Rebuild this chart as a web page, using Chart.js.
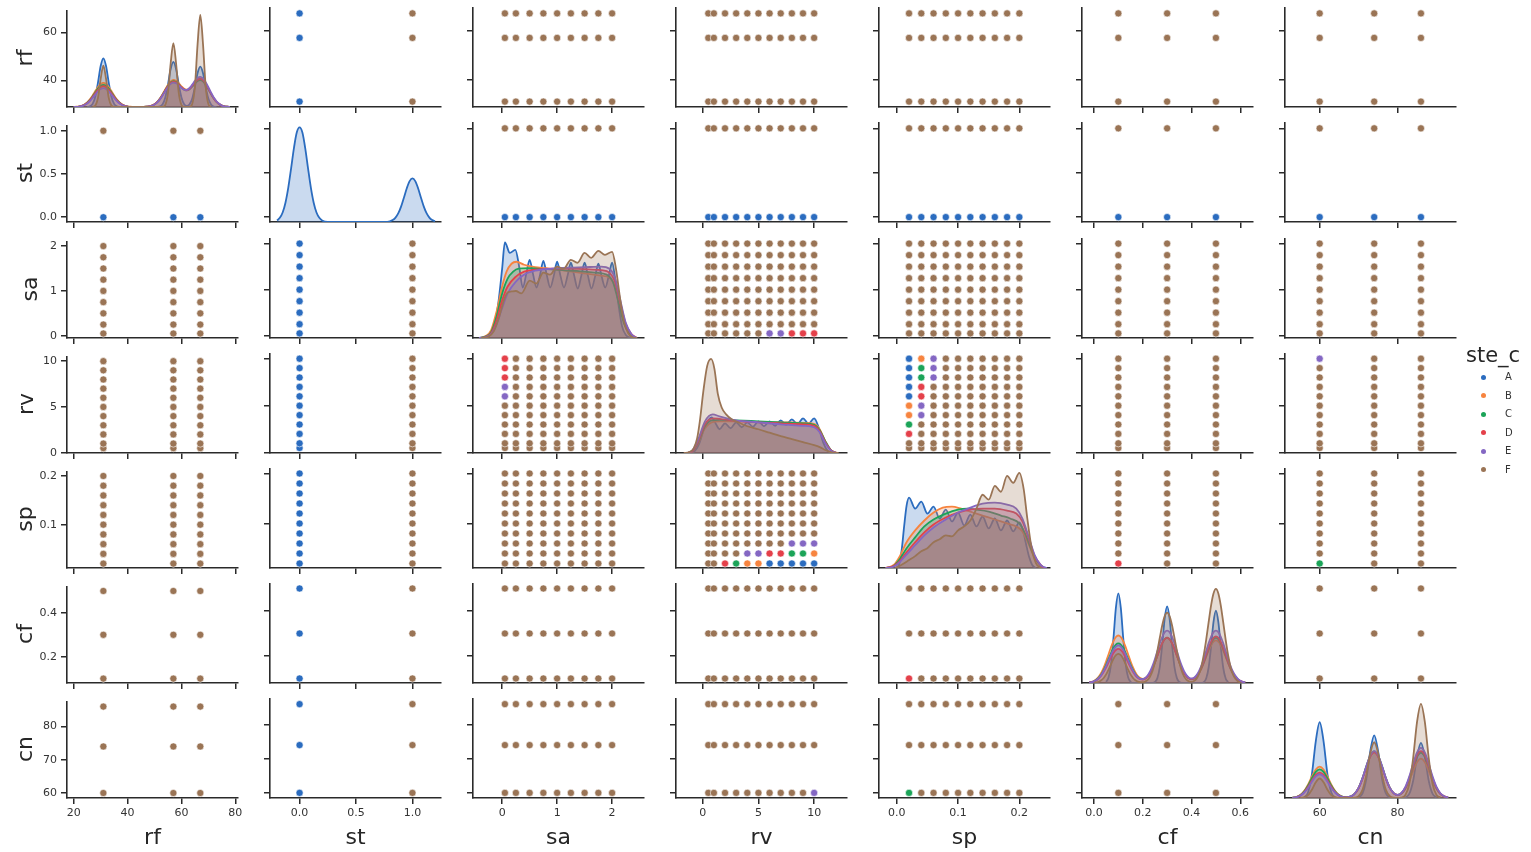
<!DOCTYPE html>
<html><head><meta charset="utf-8">
<script src="https://cdn.jsdelivr.net/npm/chart.js@4.4.0/dist/chart.umd.min.js"></script>
<style>
html,body{margin:0;padding:0;background:#fff;}
#stage{position:relative;width:1531px;height:852px;overflow:hidden;background:#fff;font-family:"DejaVu Sans",sans-serif;color:#262626;}
#stage canvas{position:absolute;}
.xlab{position:absolute;font-size:22px;line-height:22px;text-align:center;white-space:nowrap;}
.ylab{position:absolute;font-size:22px;line-height:22px;text-align:center;white-space:nowrap;width:100px;height:22px;transform:rotate(-90deg);}
.lgt{position:absolute;font-size:21px;line-height:21px;white-space:nowrap;}
.lgd{position:absolute;width:5px;height:5px;border-radius:50%;}
.lgl{position:absolute;font-size:10px;line-height:12px;color:#333;}
</style></head>
<body><div id="stage"></div>
<script>
// ---------------- DATA ----------------
const variables = ['rf','st','sa','rv','sp','cf','cn'];
const hues = ['A','B','C','D','E','F'];
const hueColors = ['#2b6cbf','#f7843f','#1ba458','#e4404a','#8467c3','#9a7455'];

// distinct values of each variable (scatter grid)
const rfLevels = [31,57,67];
const stLevels = [0,1];
const saLevels = [0.05,0.25,0.5,0.75,1,1.25,1.5,1.75,2];
const rvLevels = [0.5,1,2,3,4,5,6,7,8,9,10];
const spLevels = [0.02,0.04,0.06,0.08,0.1,0.12,0.14,0.16,0.18,0.2];
const cfLevels = [0.1,0.3,0.5];
const cnLevels = [60,74,86];

// axis limits
const rfRangeX = [17.5,81],   rfRangeY = [28.8,69.2];
const stRangeX = [-0.262,1.253], stRangeY = [-0.055,1.06];
const saRangeX = [-0.53,2.58], saRangeY = [-0.05,2.1];
const rvRangeX = [-2.4,12.95], rvRangeY = [-0.03,10.5];
const spRangeX = [-0.029,0.25], spRangeY = [0.011,0.209];
const cfRangeX = [-0.049,0.652], cfRangeY = [0.08,0.52];
const cnRangeX = [51.1,95],   cnRangeY = [58.5,87.5];

// tick values
const rfTicksX = [20,40,60,80], rfTicksY = [40,60];
const stTicksX = [0,0.5,1],     stTicksY = [0,0.5,1];
const saTicksX = [0,1,2],       saTicksY = [0,1,2];
const rvTicksX = [0,5,10],      rvTicksY = [0,5,10];
const spTicksX = [0,0.1,0.2],   spTicksY = [0.1,0.2];
const cfTicksX = [0,0.2,0.4,0.6], cfTicksY = [0.2,0.4];
const cnTicksX = [60,80],       cnTicksY = [60,70,80];
const tickDecimals = [0,1,0,0,1,1,0];

// hue visible on top at each scatter location
const defaultTopHue = 'F';
const levelHueRules = [['st',0,'A']];
const pointHueExceptions = [
  ['sa',0.05,'rv',6,'E'],['sa',0.05,'rv',7,'E'],['sa',0.05,'rv',8,'D'],['sa',0.05,'rv',9,'D'],['sa',0.05,'rv',10,'D'],
  ['sp',0.02,'rv',10,'A'],['sp',0.02,'rv',9,'A'],['sp',0.02,'rv',8,'A'],['sp',0.02,'rv',7,'A'],['sp',0.02,'rv',6,'A'],
  ['sp',0.02,'rv',5,'B'],['sp',0.02,'rv',4,'B'],['sp',0.02,'rv',3,'C'],['sp',0.02,'rv',2,'D'],
  ['sp',0.04,'rv',10,'B'],['sp',0.04,'rv',9,'C'],['sp',0.04,'rv',8,'C'],['sp',0.04,'rv',7,'D'],['sp',0.04,'rv',6,'D'],
  ['sp',0.04,'rv',5,'E'],['sp',0.04,'rv',4,'E'],
  ['sp',0.06,'rv',10,'E'],['sp',0.06,'rv',9,'E'],['sp',0.06,'rv',8,'E'],
  ['rv',10,'cn',60,'E'],
  ['sp',0.02,'cf',0.1,'D'],
  ['sp',0.02,'cn',60,'C']
];

// ---- KDE (diagonal) curves, heights in % of panel height ----
const rfKdeX = [18,19,20,21,22,23,24,25,26,27,28,29,30,31,32,33,34,35,36,37,38,39,40,41,42,43,44,45,46,47,48,49,50,51,52,53,54,55,56,57,58,59,60,61,62,63,64,65,66,67,68,69,70,71,72,73,74,75,76,77,78,79,80];
const rfKdeA = [null,null,null,null,null,null,null,0.1,0.7,3.2,10.7,25.3,42.5,50.5,42.5,25.3,10.7,3.2,0.7,0.1,0,0,0,0,0,0,0,0,0,0,0,0,0,0.1,0.6,2.9,9.9,23.4,39.4,46.8,39.4,23.4,9.9,2.9,1.1,2.7,8.8,20.9,35.2,41.8,35.2,20.9,8.8,2.6,0.5,0.1,null,null,null,null,null,null,null];
const rfKdeB = [null,null,0.1,0.25,0.6,1.3,2.65,4.8,7.9,12.0,16.6,20.8,23.9,25,23.9,20.8,16.6,12.0,7.9,4.8,2.65,1.3,0.6,0.25,0.1,0,0,0.04,0.11,0.28,0.67,1.47,2.95,5.34,8.81,13.3,18.4,23.2,26.6,28.1,27.2,24.7,21.5,18.9,18.0,19.3,22.2,25.6,28.4,29.3,27.8,24.2,19.2,13.9,9.2,5.6,3.1,1.5,0.7,0.3,0.1,null,null];
const rfKdeC = [null,null,0.1,0.2,0.5,1.2,2.4,4.4,7.2,10.9,15.1,19.0,21.8,22.8,21.8,19.0,15.1,10.9,7.2,4.4,2.4,1.2,0.5,0.2,0.1,0,0,0,0.1,0.3,0.6,1.4,2.8,5.1,8.4,12.7,17.5,22.0,25.4,26.8,26.0,23.5,20.4,18.0,17.2,18.4,21.1,24.4,27.1,28.0,26.6,23.0,18.3,13.3,8.8,5.3,2.9,1.5,0.7,0.3,0.1,null,null];
const rfKdeD = [null,null,0.1,0.2,0.5,1.1,2.3,4.1,6.8,10.3,14.2,17.9,20.5,21.5,20.5,17.9,14.2,10.3,6.8,4.1,2.3,1.1,0.5,0.2,0.1,0,0,0,0.1,0.3,0.6,1.4,2.8,5.0,8.2,12.5,17.2,21.6,24.9,26.3,25.5,23.1,20.3,18.1,17.4,18.9,22.0,25.5,28.3,29.3,27.8,24.1,19.2,13.9,9.2,5.6,3.1,1.5,0.7,0.3,0.1,null,null];
const rfKdeE = [null,null,0.1,0.2,0.5,1.0,2.1,3.7,6.2,9.4,12.9,16.2,18.6,19.5,18.6,16.2,12.9,9.4,6.2,3.7,2.1,1.0,0.5,0.2,0.1,0,0,0,0.1,0.3,0.6,1.3,2.7,4.8,7.9,12.0,16.6,20.8,24.0,25.3,24.6,22.4,19.9,18.0,17.8,19.7,23.2,27.1,30.2,31.3,29.7,25.8,20.5,14.9,9.8,6.0,3.3,1.6,0.7,0.3,0.1,null,null];
const rfKdeF = [null,null,null,null,null,null,null,null,null,0.1,1.4,9.4,29.3,42.8,29.3,9.4,1.4,0.1,0,0,0,0,0,0,0,0,0,0,0,0,0,0,0,0,0,0.2,2.2,14.6,45.4,66.3,45.4,14.6,2.2,0.2,0,0.2,3.2,21.0,65.5,95.6,65.5,21.0,3.2,0.2,null,null,null,null,null,null,null,null,null];

const stKdeX = [-0.2,-0.175,-0.15,-0.125,-0.1,-0.075,-0.05,-0.025,0,0.025,0.05,0.075,0.1,0.125,0.15,0.175,0.2,0.25,0.5,0.75,0.8,0.825,0.85,0.875,0.9,0.925,0.95,0.975,1,1.025,1.05,1.075,1.1,1.125,1.15,1.175,1.2];
const stKdeA = [1.6,4.2,9.6,19.5,34.7,54.2,74.6,90.3,95.5,90.3,74.6,54.2,34.7,19.5,9.6,4.2,1.6,0.2,0,0.1,0.7,1.9,4.4,8.9,15.8,24.8,34.1,41.3,44,41.3,34.1,24.8,15.8,8.9,4.4,1.9,0.7];

const saKdeA = [[-0.42,0],[-0.32,0.6],[-0.22,3],[-0.14,12],[-0.07,35],[0,70],[0.05,96.6],[0.14,86],[0.24,89],[0.31,72],[0.375,51],[0.44,65],[0.5,79],[0.56,65],[0.625,51],[0.69,64],[0.75,78],[0.81,64],[0.875,51],[0.94,63],[1,77],[1.06,63],[1.125,51],[1.19,63],[1.25,76],[1.31,63],[1.375,50],[1.44,63],[1.5,76],[1.56,63],[1.625,50],[1.69,62],[1.75,75],[1.81,62],[1.875,51],[1.94,63],[2,76],[2.06,58],[2.12,32],[2.18,12],[2.25,3],[2.33,0.5],[2.42,0]];
const saKdeB = [[-0.42,0],[-0.3,2],[-0.2,8],[-0.1,27],[0,52],[0.08,67],[0.17,75],[0.26,77],[0.4,74],[0.6,71.5],[0.8,70.5],[1,69],[1.2,67.5],[1.4,66],[1.6,64.5],[1.8,63],[1.95,61],[2.05,52],[2.15,30],[2.25,12],[2.35,3],[2.45,0]];
const saKdeC = [[-0.42,0],[-0.3,1.5],[-0.2,6],[-0.1,22],[0,45],[0.1,60],[0.2,67],[0.3,70],[0.5,70.5],[0.8,69.5],[1.1,68.5],[1.4,67.5],[1.7,66],[1.9,64],[2.02,56],[2.12,35],[2.22,14],[2.32,4],[2.45,0]];
const saKdeD = [[-0.42,0],[-0.3,1],[-0.2,5],[-0.1,18],[0,38],[0.1,52],[0.25,62],[0.4,67],[0.6,69],[0.9,70],[1.2,70],[1.5,69.5],[1.8,68.5],[1.95,66],[2.05,57],[2.15,35],[2.25,14],[2.35,4],[2.45,0]];
const saKdeE = [[-0.42,0],[-0.3,1],[-0.2,4],[-0.1,14],[0,30],[0.1,45],[0.25,57],[0.4,64],[0.6,68],[0.9,70],[1.2,71],[1.5,71.5],[1.8,72],[1.95,70],[2.05,61],[2.15,38],[2.25,15],[2.35,4],[2.45,0]];
const saKdeF = [[-0.38,0],[-0.25,1.5],[-0.15,7],[-0.05,22],[0.03,38],[0.1,46],[0.17,47],[0.25,47.5],[0.35,45],[0.5,58],[0.62,55],[0.75,66],[0.87,64],[1,72],[1.12,70],[1.25,79],[1.37,76],[1.5,86],[1.62,81],[1.75,88],[1.87,84],[2,87],[2.07,70],[2.14,42],[2.21,18],[2.29,5],[2.38,0.5],[2.45,0]];

const rvKdeA = [[-1.1,0],[-0.7,2],[-0.3,10],[0.1,24],[0.5,33],[0.8,36],[1.2,29],[1.5,24],[2,30],[2.5,25],[3,31],[3.5,26],[4,31],[4.5,26.5],[5,32],[5.5,27],[6,32],[6.5,27.5],[7,33],[7.5,28.5],[8,34],[8.5,29],[9,35],[9.5,29.5],[10,35],[10.4,26],[10.8,11],[11.2,2.5],[11.6,0]];
const rvKdeB = [[-1.4,0],[-0.9,2],[-0.4,10],[0.2,25],[0.8,31],[1.5,32],[3,32],[5,31.5],[7,31],[9,30.5],[10,29.5],[10.5,24],[11,12],[11.5,3],[12,0]];
const rvKdeC = [[-1.4,0],[-0.9,2],[-0.4,11],[0.2,27],[0.8,33],[1.5,33.5],[3,33],[5,32],[7,31],[9,30],[10,28.5],[10.5,23],[11,12],[11.5,3],[12,0]];
const rvKdeD = [[-1.4,0],[-0.9,2],[-0.4,12],[0.2,29],[0.9,35],[1.5,34.5],[3,32.5],[5,31],[7,30],[9,29],[10,27.5],[10.5,22],[11,11],[11.5,3],[12,0]];
const rvKdeE = [[-1.4,0],[-0.9,3],[-0.4,14],[0.2,32],[0.9,39],[1.5,37],[3,33],[5,31],[7,29],[9,27.5],[10,26],[10.5,21],[11,10],[11.5,2.5],[12,0]];
const rvKdeF = [[-1.7,0],[-1.2,1],[-0.8,5],[-0.5,15],[-0.25,33],[0.05,62],[0.4,88],[0.75,95],[1.05,85],[1.35,60],[1.7,46],[2.1,39],[2.6,34],[3,32],[4,27],[5,24],[6,20.5],[7,17],[8,14],[9,11],[10,8],[10.5,6],[11,3],[11.5,1],[12.2,0]];

const spKdeA = [[-0.002,0],[0.004,4],[0.008,18],[0.012,42],[0.016,63],[0.02,71],[0.03,60],[0.04,67],[0.05,55],[0.06,62],[0.07,50],[0.08,59],[0.09,47],[0.1,56],[0.11,43],[0.12,54],[0.13,42],[0.14,52],[0.15,40],[0.16,50],[0.17,38],[0.18,48],[0.19,37],[0.2,46],[0.206,38],[0.211,24],[0.216,11],[0.221,3],[0.227,0]];
const spKdeB = [[-0.018,0],[-0.005,3],[0.005,12],[0.015,25],[0.03,38],[0.045,48],[0.06,56],[0.075,61],[0.09,62],[0.105,60],[0.12,57],[0.14,53],[0.16,49],[0.18,45],[0.195,42],[0.205,37],[0.215,24],[0.225,10],[0.235,2],[0.24,0]];
const spKdeC = [[-0.018,0],[-0.005,2],[0.005,9],[0.015,19],[0.03,31],[0.045,42],[0.06,49],[0.08,55],[0.1,59],[0.115,60],[0.13,59],[0.15,57],[0.17,53],[0.185,50],[0.2,45],[0.21,34],[0.22,18],[0.23,6],[0.24,0]];
const spKdeD = [[-0.018,0],[-0.005,2],[0.005,7],[0.015,15],[0.03,26],[0.045,36],[0.06,44],[0.08,51],[0.1,56],[0.12,59],[0.14,60],[0.16,60],[0.18,58],[0.195,55],[0.205,47],[0.215,30],[0.225,12],[0.235,3],[0.24,0]];
const spKdeE = [[-0.018,0],[-0.005,1.5],[0.005,6],[0.015,13],[0.03,23],[0.045,33],[0.06,41],[0.08,49],[0.1,56],[0.12,61],[0.14,65],[0.16,66],[0.18,64],[0.195,60],[0.205,50],[0.215,32],[0.225,13],[0.235,3],[0.245,0]];
const spKdeF = [[-0.002,0],[0.01,4],[0.02,8],[0.03,12],[0.04,17],[0.05,20],[0.06,26],[0.07,29],[0.08,33],[0.09,32],[0.1,38],[0.11,42],[0.12,48],[0.13,60],[0.14,74],[0.15,69],[0.16,83],[0.17,77],[0.18,93],[0.19,86],[0.2,96],[0.207,80],[0.213,50],[0.22,20],[0.227,5],[0.235,0]];

const cfKdeX = [-0.02,-0.01,0,0.01,0.02,0.03,0.04,0.05,0.06,0.07,0.08,0.09,0.1,0.11,0.12,0.13,0.14,0.15,0.16,0.17,0.18,0.19,0.2,0.21,0.22,0.23,0.24,0.25,0.26,0.27,0.28,0.29,0.3,0.31,0.32,0.33,0.34,0.35,0.36,0.37,0.38,0.39,0.4,0.41,0.42,0.43,0.44,0.45,0.46,0.47,0.48,0.49,0.5,0.51,0.52,0.53,0.54,0.55,0.56,0.57,0.58,0.59,0.6,0.61,0.62];
const cfKdeA = [null,null,null,null,null,null,null,1.2,5.7,19.1,45.3,76.2,90.6,76.2,45.3,19.1,5.7,1.2,0,0,0,0,0,0,0,0,0,1.0,4.9,16.4,38.8,65.2,77.5,65.2,38.8,16.4,4.9,1.0,0,0,0,0,0,0,0,0,0,0.9,4.6,15.4,36.5,61.4,73,61.4,36.5,15.4,4.6,0.9,null,null,null,null,null,null,null];
const cfKdeB = [0.5,1.1,2.1,3.8,6.5,10.4,15.6,22.0,29.1,36.2,42.3,46.5,48,46.5,42.3,36.2,29.1,22.0,15.7,10.6,7.0,4.9,4.1,4.7,6.7,10.1,15.0,21.1,27.9,34.7,40.6,44.6,46,44.6,40.6,34.7,27.9,21.1,15.1,10.1,6.7,4.6,3.9,4.5,6.3,9.5,14.0,19.7,26.1,32.5,37.9,41.7,43,41.7,37.9,32.5,26.1,19.7,14.0,9.3,5.8,3.4,1.9,1.0,0.5];
const cfKdeC = [0.4,0.9,1.8,3.2,5.4,8.6,13.0,18.3,24.3,30.2,35.3,38.8,40,38.8,35.3,30.2,24.3,18.3,13.1,8.8,5.9,4.2,3.8,4.5,6.6,10.0,14.9,20.9,27.7,34.4,40.2,44.2,45.6,44.2,40.2,34.4,27.7,20.9,14.9,10.0,6.6,4.5,4.0,4.5,6.6,10.0,14.9,20.9,27.7,34.4,40.2,44.2,45.6,44.2,40.2,34.4,27.7,20.9,14.8,9.8,6.2,3.6,2.0,1.0,0.5];
const cfKdeD = [0.4,0.8,1.5,2.7,4.7,7.5,11.2,15.8,20.9,26.0,30.4,33.4,34.5,33.4,30.4,26.0,20.9,15.8,11.3,7.7,5.2,3.8,3.5,4.4,6.5,10.0,14.9,20.9,27.7,34.4,40.2,44.2,45.6,44.2,40.2,34.4,27.7,20.9,14.9,10.1,6.7,4.6,4.1,4.7,6.8,10.4,15.3,21.5,28.5,35.5,41.5,45.5,47,45.5,41.5,35.5,28.5,21.5,15.3,10.2,6.3,3.7,2.1,1.1,0.5];
const cfKdeE = [0.4,0.9,1.7,3.0,5.1,8.2,12.4,17.4,23.1,28.7,33.5,36.8,38,36.8,33.5,28.7,23.1,17.4,12.5,8.5,5.7,4.2,4.0,5.1,7.6,11.6,17.3,24.3,32.2,40.0,46.7,51.4,53,51.4,46.7,40.0,32.2,24.3,17.3,11.7,7.7,5.4,4.7,5.4,7.7,11.7,17.3,24.3,32.2,40.0,46.7,51.4,53,51.4,46.7,40.0,32.2,24.3,17.2,11.4,7.2,4.2,2.3,1.2,0.6];
const cfKdeF = [null,null,0.2,0.6,1.3,2.7,5.1,8.7,13.5,19.0,24.3,28.1,29.5,28.1,24.3,19.0,13.5,8.7,5.1,2.7,1.3,0.8,0.8,1.4,3.1,6.5,12.2,20.9,32.5,45.7,58.4,67.6,71,67.6,58.4,45.7,32.5,20.9,12.2,6.5,3.2,1.6,1.3,2.0,4.2,8.7,16.3,28.0,43.5,61.2,78.2,90.4,95,90.4,78.2,61.2,43.5,28.0,16.3,8.7,4.2,1.8,0.7,null,null];

const cnKdeX = [53,54,55,56,57,58,59,60,61,62,63,64,65,66,67,68,69,70,71,72,73,74,75,76,77,78,79,80,81,82,83,84,85,86,87,88,89,90,91,92,93];
const cnKdeA = [null,null,null,0.7,5.6,23.9,57.3,76.7,57.3,23.9,5.6,0.7,0,0,0,0,0,0.6,4.6,19.7,47.3,63.3,47.3,19.7,4.6,0.6,0,0,0,0.5,4.1,17.4,41.6,55.7,41.6,17.4,4.1,0.5,null,null,null];
const cnKdeB = [0.3,1.0,3.0,7.0,13.5,21.7,28.8,31.7,28.8,21.7,13.5,7.0,3.0,1.1,0.75,1.6,4.3,10.1,19.6,31.5,41.9,46,41.9,31.5,19.6,10.2,4.7,2.8,4.2,8.8,17.0,27.2,36.1,39.7,36.1,27.2,17.0,8.7,3.7,1.3,0.4];
const cnKdeC = [0.3,1.0,2.7,6.4,12.4,19.9,26.4,29,26.4,19.9,12.4,6.4,2.7,1.1,0.7,1.6,4.4,10.3,20.1,32.2,42.8,47,42.8,32.2,20.1,10.4,4.9,3.1,4.8,10.1,19.5,31.3,41.6,45.7,41.6,31.3,19.5,10.1,4.3,1.5,0.4];
const cnKdeD = [0.2,0.8,2.4,5.7,11.0,17.6,23.4,25.7,23.4,17.6,11.0,5.7,2.4,0.9,0.7,1.5,4.3,10.1,19.6,31.5,41.9,46,41.9,31.5,19.6,10.2,4.8,3.1,4.9,10.4,20.2,32.4,43.0,47.3,43.0,32.4,20.2,10.4,4.4,1.6,0.5];
const cnKdeE = [0.2,0.8,2.3,5.3,10.2,16.4,21.8,24,21.8,16.4,10.2,5.3,2.3,0.9,0.7,1.6,4.4,10.4,20.2,32.4,43.0,47.3,43.0,32.4,20.2,10.5,4.9,3.2,5.2,11.2,21.6,34.7,46.1,50.7,46.1,34.7,21.6,11.2,4.8,1.7,0.5];
const cnKdeF = [null,null,0.1,0.7,2.9,8.4,15.9,19.7,15.9,8.4,2.9,0.7,0.1,0,0,0,0.3,1.9,8.2,23.9,45.5,56.3,45.5,23.9,8.2,1.9,0.3,0,0.5,3.1,13.9,40.4,76.8,95,76.8,40.4,13.9,3.1,0.5,null,null];

// ---------------- BUILD ----------------
const levels = {rf:rfLevels, st:stLevels, sa:saLevels, rv:rvLevels, sp:spLevels, cf:cfLevels, cn:cnLevels};
const rangesX = {rf:rfRangeX, st:stRangeX, sa:saRangeX, rv:rvRangeX, sp:spRangeX, cf:cfRangeX, cn:cnRangeX};
const rangesY = {rf:rfRangeY, st:stRangeY, sa:saRangeY, rv:rvRangeY, sp:spRangeY, cf:cfRangeY, cn:cnRangeY};
const ticksX = {rf:rfTicksX, st:stTicksX, sa:saTicksX, rv:rvTicksX, sp:spTicksX, cf:cfTicksX, cn:cnTicksX};
const ticksY = {rf:rfTicksY, st:stTicksY, sa:saTicksY, rv:rvTicksY, sp:spTicksY, cf:cfTicksY, cn:cnTicksY};

const gridCurve = (xs, ys) => xs.map((x, i) => ({x, y: ys[i]})).filter(p => p.y !== null);
const pairCurve = (ps) => ps.map(([x, y]) => ({x, y}));
const kdeData = {
  rf: {A:gridCurve(rfKdeX,rfKdeA), B:gridCurve(rfKdeX,rfKdeB), C:gridCurve(rfKdeX,rfKdeC), D:gridCurve(rfKdeX,rfKdeD), E:gridCurve(rfKdeX,rfKdeE), F:gridCurve(rfKdeX,rfKdeF)},
  st: {A:gridCurve(stKdeX,stKdeA)},
  sa: {A:pairCurve(saKdeA), B:pairCurve(saKdeB), C:pairCurve(saKdeC), D:pairCurve(saKdeD), E:pairCurve(saKdeE), F:pairCurve(saKdeF)},
  rv: {A:pairCurve(rvKdeA), B:pairCurve(rvKdeB), C:pairCurve(rvKdeC), D:pairCurve(rvKdeD), E:pairCurve(rvKdeE), F:pairCurve(rvKdeF)},
  sp: {A:pairCurve(spKdeA), B:pairCurve(spKdeB), C:pairCurve(spKdeC), D:pairCurve(spKdeD), E:pairCurve(spKdeE), F:pairCurve(spKdeF)},
  cf: {A:gridCurve(cfKdeX,cfKdeA), B:gridCurve(cfKdeX,cfKdeB), C:gridCurve(cfKdeX,cfKdeC), D:gridCurve(cfKdeX,cfKdeD), E:gridCurve(cfKdeX,cfKdeE), F:gridCurve(cfKdeX,cfKdeF)},
  cn: {A:gridCurve(cnKdeX,cnKdeA), B:gridCurve(cnKdeX,cnKdeB), C:gridCurve(cnKdeX,cnKdeC), D:gridCurve(cnKdeX,cnKdeD), E:gridCurve(cnKdeX,cnKdeE), F:gridCurve(cnKdeX,cnKdeF)}
};

function hueAt(xVar, xv, yVar, yv) {
  for (const [a, av, b, bv, h] of pointHueExceptions) {
    if ((a === xVar && av === xv && b === yVar && bv === yv) || (a === yVar && av === yv && b === xVar && bv === xv)) return h;
  }
  for (const [v, val, h] of levelHueRules) {
    if ((xVar === v && xv === val) || (yVar === v && yv === val)) return h;
  }
  return defaultTopHue;
}
function rgba(hex, a) {
  const n = parseInt(hex.slice(1), 16);
  return `rgba(${(n >> 16) & 255},${(n >> 8) & 255},${n & 255},${a})`;
}

// layout
const FONT = '"DejaVu Sans", "Liberation Sans", sans-serif';
const PADL = 46, PADR = 8, PADT = 8, PADB = 30, CELL_W = 171, CELL_H = 99;
const colLeft = [67,270,473,676,879,1082,1285];
const rowTop = [8,123,239,354,469,584,699];
const rowLabelBaseX = [33,33,38,34,33,33,33];
const AXIS_COLOR = '#2a2a2a';

Chart.defaults.font.family = FONT;
Chart.defaults.color = '#333';

function axisCfg(v, vi, dir, showLabels) {
  const r = dir === 'x' ? rangesX[v] : rangesY[v];
  const tv = dir === 'x' ? ticksX[v] : ticksY[v];
  return {
    type: 'linear', position: dir === 'x' ? 'bottom' : 'left',
    min: r[0], max: r[1], z: 1,
    afterBuildTicks: s => { s.ticks = tv.map(t => ({value: t})); },
    afterFit: s => { if (dir === 'x') s.height = PADB; else s.width = PADL; },
    grid: {display: true, drawOnChartArea: false, drawTicks: true, tickLength: 6, color: AXIS_COLOR, lineWidth: 1.5},
    border: {display: true, color: AXIS_COLOR, width: 1.6},
    ticks: {display: showLabels, color: '#333', font: {family: FONT, size: 11}, padding: dir === 'x' ? 3 : 4,
            maxRotation: 0, autoSkip: false, callback: val => Number(val).toFixed(tickDecimals[vi])}
  };
}

const stage = document.getElementById('stage');
variables.forEach((yVar, r) => {
  variables.forEach((xVar, c) => {
    const cv = document.createElement('canvas');
    const w = PADL + CELL_W + PADR, h = PADT + CELL_H + PADB;
    cv.width = w; cv.height = h;
    cv.style.width = w + 'px'; cv.style.height = h + 'px';
    cv.style.left = (colLeft[c] - PADL) + 'px';
    cv.style.top = (rowTop[r] - PADT) + 'px';
    stage.appendChild(cv);

    const scales = {
      x: axisCfg(xVar, c, 'x', r === variables.length - 1),
      y: axisCfg(yVar, r, 'y', c === 0)
    };
    let datasets, type;
    if (r === c) {
      type = 'line';
      scales.yk = {type: 'linear', display: false, min: 0, max: 100};
      datasets = [];
      hues.forEach((hu, i) => {
        const d = kdeData[xVar][hu];
        if (!d) return;
        datasets.push({
          label: hu, data: d, xAxisID: 'x', yAxisID: 'yk',
          borderColor: hueColors[i], backgroundColor: rgba(hueColors[i], 0.25),
          borderWidth: 1.8, pointRadius: 0, fill: 'origin',
          cubicInterpolationMode: 'monotone', order: hues.length - 1 - i
        });
      });
    } else {
      type = 'scatter';
      const pts = {};
      hues.forEach(hu => pts[hu] = []);
      for (const xv of levels[xVar]) for (const yv of levels[yVar]) pts[hueAt(xVar, xv, yVar, yv)].push({x: xv, y: yv});
      datasets = hues.map((hu, i) => ({
        label: hu, data: pts[hu], backgroundColor: hueColors[i], borderColor: '#ffffff',
        borderWidth: 0.6, pointRadius: 3.6, pointHoverRadius: 3.6, clip: false,
        order: hues.length - 1 - i
      }));
    }
    new Chart(cv, {
      type, data: {datasets},
      options: {
        responsive: false, animation: false, events: [], devicePixelRatio: 1,
        layout: {padding: {top: PADT, right: PADR, left: 0, bottom: 0}},
        plugins: {legend: {display: false}, tooltip: {enabled: false}},
        scales
      }
    });
  });
});

// axis labels
variables.forEach((v, c) => {
  const d = document.createElement('div');
  d.className = 'xlab'; d.textContent = v;
  d.style.left = colLeft[c] + 'px'; d.style.width = CELL_W + 'px'; d.style.top = '826px';
  stage.appendChild(d);
});
variables.forEach((v, r) => {
  const d = document.createElement('div');
  d.className = 'ylab'; d.textContent = v;
  const cx = rowLabelBaseX[r] - 7.6, cy = rowTop[r] + CELL_H / 2;
  d.style.left = (cx - 50) + 'px'; d.style.top = (cy - 11) + 'px';
  stage.appendChild(d);
});

// legend
const lt = document.createElement('div');
lt.className = 'lgt'; lt.textContent = 'ste_c';
lt.style.left = '1466px'; lt.style.top = '345px';
stage.appendChild(lt);
hues.forEach((hu, i) => {
  const cy = 377.3 + 18.5 * i;
  const dot = document.createElement('div');
  dot.className = 'lgd'; dot.style.background = hueColors[i];
  dot.style.left = '1480.5px'; dot.style.top = (cy - 2.5) + 'px';
  stage.appendChild(dot);
  const l = document.createElement('div');
  l.className = 'lgl'; l.textContent = hu;
  l.style.left = '1505px'; l.style.top = (cy - 6) + 'px';
  stage.appendChild(l);
});
</script>
</body></html>
